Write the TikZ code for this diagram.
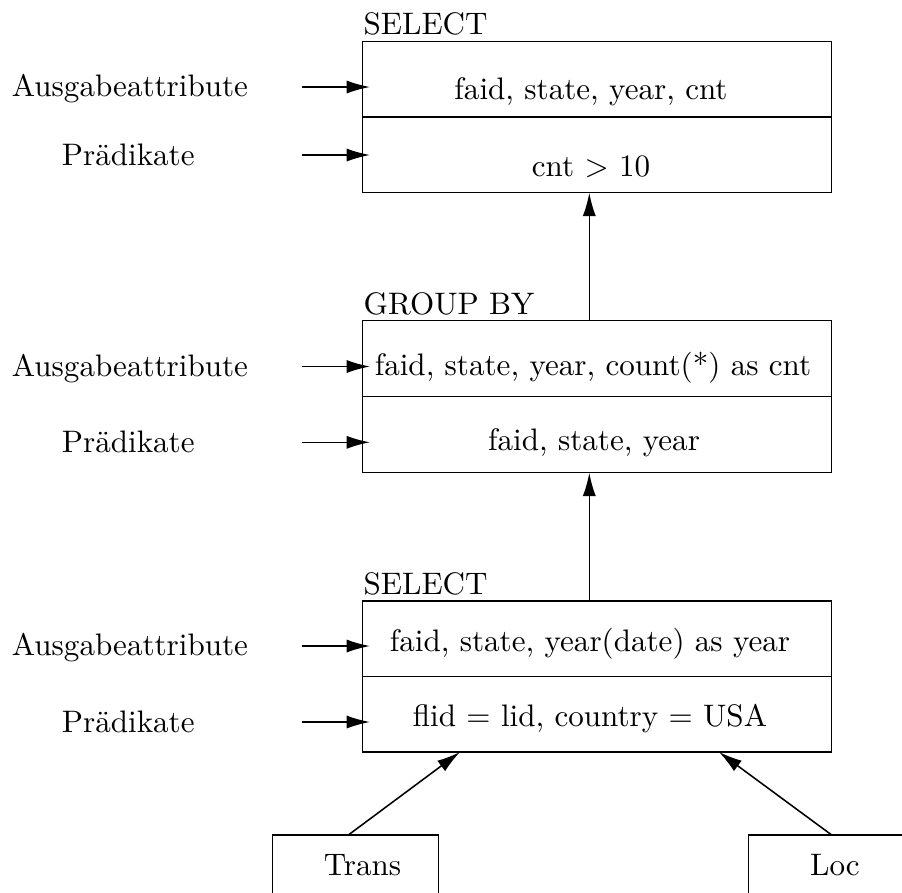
\documentclass[tikz,border=0pt]{standalone}
\usetikzlibrary{arrows.meta}
\begin{document}
\begin{tikzpicture}[x=0.3217pt,y=-0.3217pt,
  box/.style={draw, line width=0.5pt, inner sep=0pt, outer sep=0pt,
    minimum width=469*0.3217pt, minimum height=151*0.3217pt},
  srcbox/.style={draw, line width=0.5pt, inner sep=0pt, outer sep=0pt,
    minimum width=166*0.3217pt, minimum height=100*0.3217pt},
  txt/.style={anchor=base, inner sep=0pt},
  head/.style={anchor=base west, inner sep=0pt},
  feed/.style={line width=0.5pt, -{Latex[length=7.5pt,width=4.2pt]}},
  rule/.style={line width=0.5pt},
]
\useasboundingbox (0,0) rectangle (902,892);

% operator boxes, split into output attributes and predicate
\node[box] (q3) at (597.2,117.2) {};
\node[box, minimum height=152*0.3217pt] (q2) at (597.2,396.7) {};
\node[box] (q1) at (597.2,676.5) {};
\draw[rule] (q3.west) -- (q3.east);
\draw[rule] (q2.west) -- (q2.east);
\draw[rule] (q1.west) -- (q1.east);

% operator names
\node[head] (h3) at (363,34) {SELECT};
\node[head] (h2) at (363,314) {GROUP BY};
\node[head] (h1) at (363,594) {SELECT};

% box contents
\node[txt] (q3out) at (591,99.3) {faid, state, year, cnt};
\node[txt] (q3pred) at (591,176.7) {cnt $>$ 10};
\node[txt] (q2out) at (593,375) {faid, state, year, count(*) as cnt};
\node[txt] (q2pred) at (594,450.7) {faid, state, year};
\node[txt] (q1out) at (590,651.7) {faid, state, year(date) as year};
\node[txt] (q1pred) at (590,726.7) {flid $=$ lid, country $=$ USA};

% side labels with their arrows
\foreach \n/\ya/\yp in {3/87/155, 2/366.5/442.3, 1/646/722}{
  \node[txt] (out\n) at (130,\ya+9.5) {Ausgabeattribute};
  \node[txt] (pred\n) at (128.3,\yp+10.5) {Prädikate};
  \coordinate (outs\n) at (302,\ya);
  \coordinate (oute\n) at (370,\ya);
  \coordinate (preds\n) at (302,\yp);
  \coordinate (prede\n) at (370,\yp);
  \draw[feed] (outs\n) -- (oute\n);
  \draw[feed] (preds\n) -- (prede\n);
}

% data flow between operators
\draw[feed] ([xshift=-2.54pt]q2.north) -- ([xshift=-2.54pt]q3.south);
\draw[feed] ([xshift=-2.54pt]q1.north) -- ([xshift=-2.54pt]q1.north |- q2.south);

% base relations
\node[srcbox] (trans) at (355.3,885) {};
\node[srcbox] (loc) at (831.7,885) {};
\node[txt] (transname) at (362.5,875) {Trans};
\node[txt] (locname) at (835,875) {Loc};
\draw[feed] ([xshift=-2.25pt]trans.north) -- ([xshift=-44.14pt]q1.south);
\draw[feed] (loc.north) -- ([xshift=39.18pt]q1.south);
\end{tikzpicture}
\end{document}
